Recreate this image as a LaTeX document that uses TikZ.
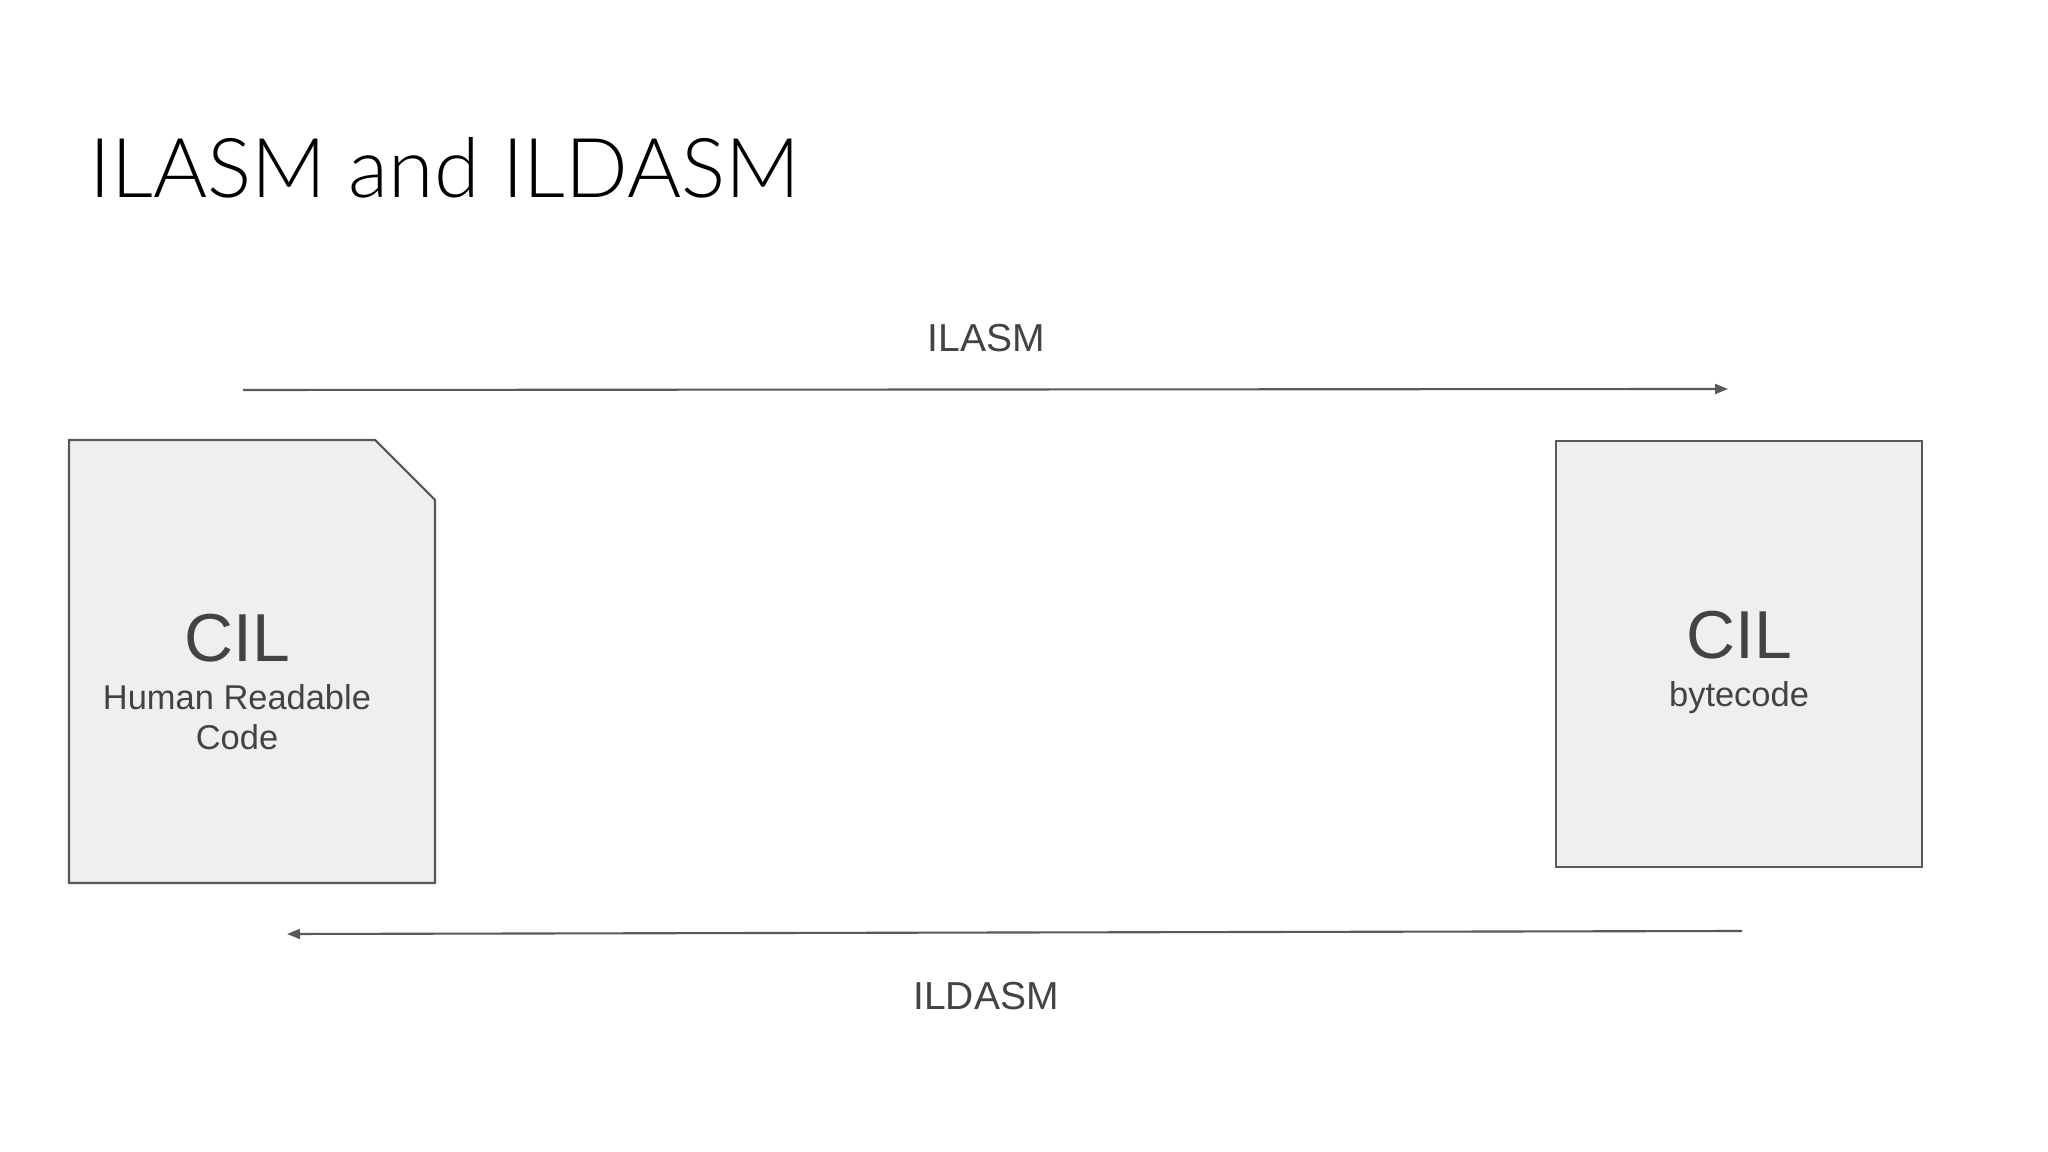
\documentclass[tikz,border=0pt]{standalone}
\usepackage{fontspec}
\setmainfont{Liberation Sans}
\IfFontExistsTF{Lato Light}{\newfontfamily\titlefont{Lato Light}}{\newfontfamily\titlefont{Lato}}
\usepackage{tikz}
\usetikzlibrary{arrows.meta}
\definecolor{fondFichier}{HTML}{EFEFEF}
\definecolor{traitFichier}{HTML}{595959}
\definecolor{texteGris}{HTML}{434343}
\newcommand*{\largeurFichier}{366}
\newcommand*{\pli}{60}
\tikzset{
	fichier/.style={draw=traitFichier,fill=fondFichier,line width=0.6pt},
	fleche/.style={draw=traitFichier,line width=0.6pt,-{Triangle[length=1.3mm,width=1.0mm]}},
	grand/.style={texteGris,anchor=base,font=\fontsize{19.3}{23}\selectfont},
	petit/.style={texteGris,anchor=base,font=\fontsize{9.8}{11.5}\selectfont},
	legende/.style={texteGris,anchor=base,font=\fontsize{11.1}{13}\selectfont}
}
\begin{document}
\begin{tikzpicture}[x=0.1mm,y=-0.1mm]
	\useasboundingbox (0,0) rectangle (2048,1152);
	\node[anchor=base west,inner sep=0pt,font=\titlefont\fontsize{23.5}{28}\selectfont] (titre) at (89,198) {ILASM and ILDASM};

	% fichier source, coin plie
	\draw[fichier] (69,440) -- (435-\pli,440) -- (435,500) -- (435,883) -- (69,883) -- cycle;
	\node[grand] (cilA) at (237,662) {CIL};
	\node[petit] (lisibleA) at (237,710) {Human Readable};
	\node[petit] (lisibleB) at (237,750) {Code};

	% fichier binaire
	\draw[fichier] (1556,441) rectangle ++(\largeurFichier,426);
	\node[grand] (cilB) at (1739,659) {CIL};
	\node[petit] (octets) at (1739,707) {bytecode};

	% fleches
	\coordinate (A) at (243,390);
	\coordinate (B) at (1728,389);
	\coordinate (C) at (1742,931);
	\coordinate (D) at (287,934);
	\draw[fleche] (A) -- (B);
	\draw[fleche] (C) -- (D);
	\node[legende] (ilasm) at (986,352) {ILASM};
	\node[legende] (ildasm) at (986,1009) {ILDASM};
\end{tikzpicture}
\end{document}
